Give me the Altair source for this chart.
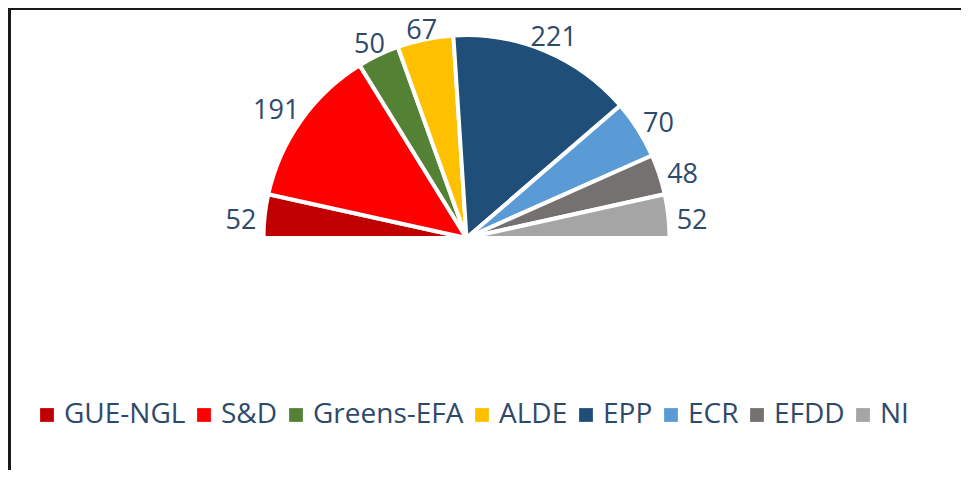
import math
import altair as alt
import pandas as pd

parties = ["GUE-NGL", "S&D", "Greens-EFA", "ALDE", "EPP", "ECR", "EFDD", "NI"]
seats = [52, 191, 50, 67, 221, 70, 48, 52]
colors = ["#C00000", "#FF0000", "#548235", "#FFC000", "#1F4E79", "#5B9BD5", "#767171", "#A5A5A5"]

TEXT = "#2E4A6A"
FONT = "Open Sans"
total = sum(seats)

df = pd.DataFrame({"party": parties, "seats": seats, "idx": list(range(len(parties)))})

CX, CY = 458.5, 230  # pie centre inside the view
R = 203
HALF = math.pi / 2

theta = alt.Theta("seats:Q", stack=True,
                  scale=alt.Scale(domain=[0, total], range=[-HALF, HALF]))
order = alt.Order("idx:Q")

arcs = alt.Chart(df).mark_arc(outerRadius=R, stroke="white", strokeWidth=4).encode(
    theta=theta,
    order=order,
    x=alt.value(CX),
    y=alt.value(CY),
    color=alt.Color("party:N", sort=parties,
                    scale=alt.Scale(domain=parties, range=colors),
                    legend=alt.Legend(title=None, orient="none", direction="horizontal",
                                      legendX=25, legendY=393, columns=8,
                                      symbolType="square", symbolSize=190, symbolStrokeWidth=0,
                                      labelFont=FONT, labelFontSize=28, labelColor=TEXT,
                                      labelOffset=3, columnPadding=4, labelLimit=400)),
)

# outside-end label placement: the label box sits just outside the rim
labels = alt.Chart(df).transform_window(
    cum="sum(seats)", sort=[alt.SortField("idx")], frame=[None, 0]
).transform_calculate(
    mid="datum.cum - datum.seats / 2",
).transform_calculate(
    ang=f"datum.mid / {total} * PI",
).transform_calculate(
    lr=f"{R} + 8 + abs(cos(datum.ang)) * 7.7 * length(toString(datum.seats)) + abs(sin(datum.ang)) * 6",
).mark_text(dy=8, font=FONT, fontSize=27, color=TEXT).encode(
    theta=alt.Theta("mid:Q", stack=False,
                    scale=alt.Scale(domain=[0, total], range=[-HALF, HALF])),
    radius=alt.Radius("lr:Q", scale=None),
    x=alt.value(CX),
    y=alt.value(CY),
    text=alt.Text("seats:Q"),
)

border_top = alt.Chart(df).mark_rule(color="#1a1a1a", strokeWidth=2.5).encode(
    x=alt.value(0), x2=alt.value(2000), y=alt.value(0.5))
border_left = alt.Chart(df).mark_rule(color="#1a1a1a", strokeWidth=2.5).encode(
    x=alt.value(1.5), y=alt.value(0), y2=alt.value(2000))

chart = alt.layer(arcs, labels, border_top, border_left).properties(
    width=953, height=462, padding=0,
    autosize=alt.AutoSizeParams(type="none"),
).resolve_scale(theta="independent").configure_view(stroke=None)

chart.save("out.html", embed_options={"renderer": "svg", "actions": False})
